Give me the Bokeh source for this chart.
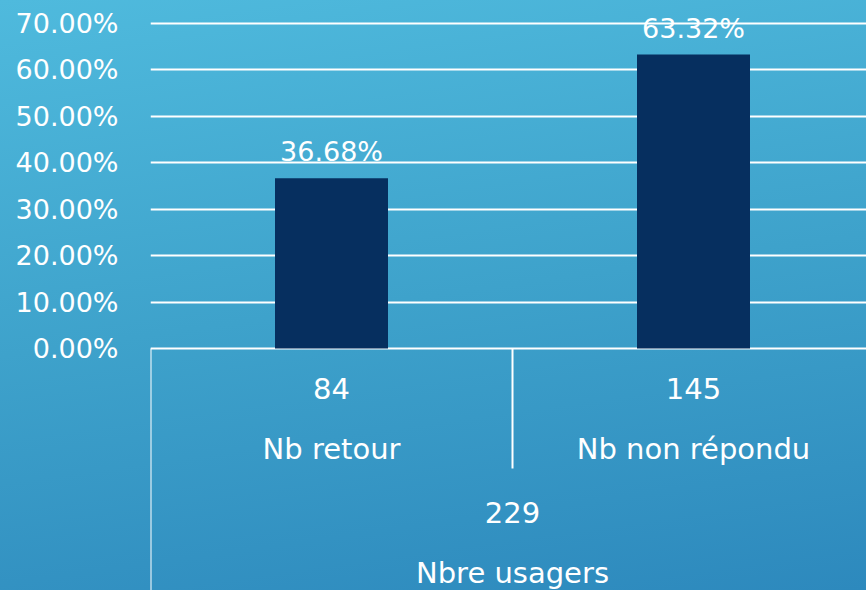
from bokeh.plotting import figure
from bokeh.models import Range1d, FixedTicker, NumeralTickFormatter, ColumnDataSource, LinearAxis
from bokeh.core.properties import value
from bokeh.embed import file_html
from bokeh.resources import INLINE

# ---- data ----
categories = ["Nb retour", "Nb non répondu"]
counts = [84, 145]
shares = [0.3668, 0.6332]
group_label = "Nbre usagers"
group_total = 229
y_ticks = [0.0, 0.1, 0.2, 0.3, 0.4, 0.5, 0.6, 0.7]

FONT_NAME = "DejaVu Sans"
FONT = value(FONT_NAME)
PCT_SIZE = "27px"
CAT_SIZE = "29px"
WHITE = "#ffffff"
BAR = "#062f5f"

W, H = 866, 590
LEFT = 150
PLOT_W = W - LEFT
CAT_PX = 362                 # pixels per category slot
ZERO_PX = 348                # pixel row of 0 %
PX_PER_UNIT = 464.3          # pixels per 100 %

x_end = PLOT_W / CAT_PX
y_top = ZERO_PX / PX_PER_UNIT
y_bot = -(H - ZERO_PX) / PX_PER_UNIT

p = figure(width=W, height=H, output_backend="svg", toolbar_location=None,
           x_range=Range1d(0, x_end), y_range=Range1d(y_bot, y_top),
           min_border_left=LEFT, min_border_right=0, min_border_top=0,
           min_border_bottom=0, y_axis_location=None, x_axis_location=None)

p.background_fill_alpha = 0
p.border_fill_alpha = 0
p.outline_line_color = None
p.styles = {"background": "linear-gradient(172deg, #4fbadd 0%, #3ea2cb 50%, #2d89bd 100%)"}

# left axis
ax = LinearAxis(ticker=FixedTicker(ticks=y_ticks),
                formatter=NumeralTickFormatter(format="0.00%"))
ax.axis_line_color = None
ax.major_tick_line_color = None
ax.minor_tick_line_color = None
ax.major_label_standoff = 26
ax.major_label_text_font = FONT_NAME
ax.major_label_text_font_size = PCT_SIZE
ax.major_label_text_color = WHITE
p.add_layout(ax, "left")

p.xgrid.visible = False
p.ygrid.ticker = FixedTicker(ticks=y_ticks)
p.ygrid.grid_line_color = WHITE
p.ygrid.grid_line_width = 2

xs = [i + 0.5 for i in range(len(categories))]
src = ColumnDataSource(dict(
    x=xs, top=shares, lab=[f"{v:.2%}" for v in shares],
    cat=categories, cnt=[str(c) for c in counts]))

p.vbar(x="x", top="top", width=113 / CAT_PX, source=src,
       fill_color=BAR, line_color=None)
p.text(x="x", y="top", text="lab", source=src, text_align="center",
       text_baseline="bottom", y_offset=-11, text_color=WHITE,
       text_font=FONT, text_font_size=PCT_SIZE)

# category table below the axis (pixel offsets below 0 %)
p.extra_y_ranges = {"tbl": Range1d(H - ZERO_PX, -ZERO_PX)}
ROW_CNT, ROW_CAT, ROW_GCNT, ROW_GCAT = 40, 100, 164, 224
DIVIDER_END = 120

p.segment(x0=[0], y0=[0], x1=[0], y1=[H - ZERO_PX], y_range_name="tbl",
          line_color=WHITE, line_width=2)
bounds = list(range(1, len(categories)))
p.segment(x0=bounds, y0=[0] * len(bounds), x1=bounds, y1=[DIVIDER_END] * len(bounds),
          y_range_name="tbl", line_color=WHITE, line_width=2)

p.text(x="x", y=ROW_CNT, text="cnt", source=src, y_range_name="tbl",
       text_align="center", text_baseline="middle", text_color=WHITE,
       text_font=FONT, text_font_size=CAT_SIZE)
p.text(x="x", y=ROW_CAT, text="cat", source=src, y_range_name="tbl",
       text_align="center", text_baseline="middle", text_color=WHITE,
       text_font=FONT, text_font_size=CAT_SIZE)
gx = len(categories) / 2
p.text(x=[gx], y=[ROW_GCNT], text=[str(group_total)], y_range_name="tbl",
       text_align="center", text_baseline="middle", text_color=WHITE,
       text_font=FONT, text_font_size=CAT_SIZE)
p.text(x=[gx], y=[ROW_GCAT], text=[group_label], y_range_name="tbl",
       text_align="center", text_baseline="middle", text_color=WHITE,
       text_font=FONT, text_font_size=CAT_SIZE)

open("out.html", "w").write(file_html(p, INLINE))
